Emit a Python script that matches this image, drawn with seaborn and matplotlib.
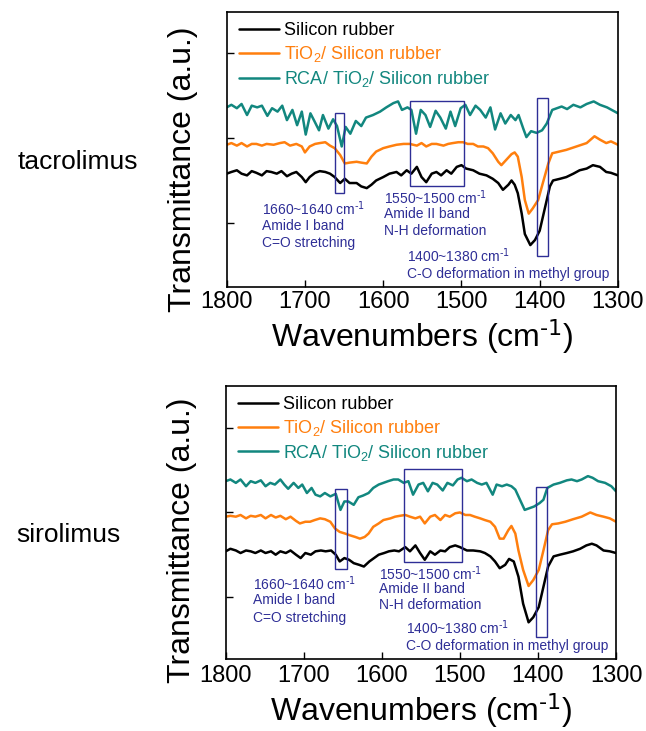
import numpy as np
import pandas as pd
import matplotlib
matplotlib.use("Agg")
import matplotlib.pyplot as plt
import seaborn as sns
from matplotlib.patches import Rectangle

# ---------------- FTIR spectra (wavenumber in cm-1, transmittance in a.u.) ----------------
# tacrolimus-loaded samples
tac_sr_w = [1800, 1794, 1787, 1781, 1774, 1768, 1762, 1755, 1749, 1743, 1736, 1730, 1723, 1717,
            1711, 1704, 1699, 1694, 1687, 1681, 1674, 1668, 1662, 1655, 1649, 1643, 1634, 1628,
            1621, 1615, 1609, 1600, 1592, 1583, 1577, 1570, 1564, 1557, 1551, 1545, 1538, 1532,
            1526, 1519, 1513, 1506, 1500, 1494, 1485, 1477, 1468, 1460, 1453, 1447, 1440, 1436,
            1432, 1428, 1423, 1419, 1412, 1406, 1400, 1394, 1387, 1383, 1374, 1366, 1357, 1349,
            1340, 1332, 1323, 1315, 1309, 1300]
tac_sr_t = [1.58, 1.60, 1.62, 1.58, 1.56, 1.61, 1.59, 1.56, 1.61, 1.60, 1.58, 1.61, 1.55, 1.58,
            1.60, 1.54, 1.48, 1.54, 1.59, 1.61, 1.60, 1.58, 1.54, 1.47, 1.52, 1.47, 1.47, 1.43,
            1.41, 1.45, 1.50, 1.54, 1.58, 1.60, 1.56, 1.62, 1.58, 1.66, 1.54, 1.48, 1.58, 1.60,
            1.56, 1.62, 1.58, 1.66, 1.68, 1.64, 1.62, 1.58, 1.56, 1.52, 1.47, 1.39, 1.45, 1.50,
            1.45, 1.35, 1.11, 0.87, 0.74, 0.80, 0.91, 1.15, 1.43, 1.50, 1.52, 1.54, 1.58, 1.62,
            1.64, 1.68, 1.66, 1.60, 1.59, 1.56]

tac_ti_w = [1800, 1794, 1787, 1781, 1774, 1768, 1762, 1755, 1749, 1740, 1732, 1726, 1719, 1711,
            1704, 1700, 1694, 1687, 1681, 1674, 1668, 1662, 1655, 1649, 1643, 1634, 1628, 1621,
            1615, 1609, 1600, 1592, 1583, 1574, 1566, 1557, 1551, 1545, 1538, 1532, 1523, 1517,
            1511, 1504, 1498, 1492, 1485, 1479, 1472, 1466, 1460, 1453, 1449, 1443, 1436, 1432,
            1428, 1423, 1419, 1414, 1409, 1402, 1396, 1389, 1384, 1375, 1366, 1353, 1340, 1330,
            1323, 1315, 1309, 1300]
tac_ti_t = [1.92, 1.94, 1.91, 1.94, 1.90, 1.93, 1.93, 1.91, 1.93, 1.92, 1.94, 1.95, 1.91, 1.93,
            1.90, 1.83, 1.90, 1.93, 1.94, 1.95, 1.91, 1.88, 1.80, 1.70, 1.71, 1.72, 1.71, 1.70,
            1.78, 1.84, 1.88, 1.90, 1.92, 1.93, 1.93, 1.91, 1.94, 1.90, 1.93, 1.93, 1.91, 1.93,
            1.94, 1.95, 1.95, 1.93, 1.93, 1.90, 1.90, 1.88, 1.82, 1.72, 1.68, 1.74, 1.81, 1.83,
            1.78, 1.54, 1.27, 1.11, 1.17, 1.27, 1.47, 1.70, 1.82, 1.84, 1.86, 1.90, 1.94, 2.02,
            1.98, 1.94, 1.96, 1.92]

tac_rca_w = [1800, 1794, 1787, 1781, 1774, 1768, 1761, 1755, 1748, 1742, 1735, 1729, 1723, 1716,
             1710, 1704, 1699, 1693, 1688, 1682, 1677, 1670, 1664, 1659, 1653, 1648, 1642, 1635,
             1628, 1622, 1613, 1604, 1596, 1587, 1581, 1576, 1569, 1564, 1558, 1552, 1546, 1540,
             1533, 1527, 1520, 1514, 1508, 1501, 1495, 1489, 1482, 1476, 1469, 1463, 1457, 1450,
             1444, 1437, 1431, 1427, 1421, 1417, 1411, 1404, 1397, 1391, 1384, 1378, 1372, 1365,
             1357, 1348, 1340, 1331, 1323, 1314, 1300]
tac_rca_t = [2.36, 2.39, 2.35, 2.40, 2.27, 2.38, 2.36, 2.38, 2.26, 2.35, 2.31, 2.38, 2.21, 2.33,
             2.15, 2.31, 2.04, 2.29, 2.20, 2.09, 2.27, 2.11, 2.22, 2.14, 1.90, 2.13, 2.05, 2.20,
             2.14, 2.24, 2.27, 2.31, 2.36, 2.41, 2.43, 2.33, 2.36, 2.33, 2.05, 2.33, 2.27, 2.13,
             2.32, 2.24, 2.11, 2.31, 2.14, 2.35, 2.39, 2.27, 2.38, 2.33, 2.24, 2.36, 2.10, 2.29,
             2.17, 2.27, 2.21, 2.27, 2.11, 2.01, 2.08, 2.06, 2.09, 2.17, 2.33, 2.35, 2.37, 2.34,
             2.39, 2.36, 2.40, 2.43, 2.39, 2.36, 2.29]

# sirolimus-loaded samples
sir_sr_w = [1800, 1794, 1787, 1781, 1774, 1768, 1762, 1755, 1749, 1742, 1736, 1730, 1723, 1717,
            1710, 1704, 1698, 1691, 1685, 1678, 1672, 1665, 1659, 1654, 1648, 1642, 1636, 1629,
            1623, 1616, 1610, 1604, 1597, 1591, 1584, 1578, 1570, 1564, 1557, 1551, 1545, 1538,
            1532, 1525, 1519, 1513, 1506, 1500, 1491, 1483, 1474, 1468, 1461, 1455, 1449, 1442,
            1437, 1431, 1425, 1419, 1412, 1406, 1399, 1393, 1387, 1380, 1372, 1363, 1355, 1346,
            1338, 1331, 1325, 1316, 1308, 1300]
sir_sr_t = [1.54, 1.57, 1.55, 1.52, 1.55, 1.54, 1.52, 1.55, 1.52, 1.54, 1.50, 1.54, 1.52, 1.55,
            1.50, 1.46, 1.52, 1.50, 1.54, 1.55, 1.54, 1.55, 1.50, 1.42, 1.46, 1.44, 1.40, 1.38,
            1.36, 1.42, 1.46, 1.50, 1.52, 1.54, 1.55, 1.54, 1.59, 1.54, 1.61, 1.52, 1.44, 1.54,
            1.50, 1.55, 1.54, 1.59, 1.61, 1.59, 1.55, 1.55, 1.54, 1.52, 1.48, 1.42, 1.34, 1.38,
            1.45, 1.42, 1.24, 0.92, 0.70, 0.76, 0.88, 1.12, 1.36, 1.48, 1.50, 1.52, 1.54, 1.57,
            1.61, 1.63, 1.61, 1.55, 1.54, 1.52]

sir_ti_w = [1800, 1794, 1787, 1781, 1774, 1768, 1762, 1755, 1749, 1742, 1736, 1730, 1723, 1717,
            1710, 1705, 1698, 1692, 1686, 1679, 1673, 1666, 1660, 1654, 1647, 1641, 1634, 1628,
            1622, 1617, 1611, 1604, 1598, 1589, 1583, 1577, 1570, 1564, 1557, 1551, 1545, 1538,
            1532, 1525, 1519, 1513, 1506, 1500, 1493, 1487, 1481, 1474, 1468, 1461, 1455, 1449,
            1444, 1438, 1434, 1429, 1425, 1419, 1412, 1406, 1399, 1393, 1387, 1382, 1374, 1365,
            1355, 1344, 1333, 1325, 1316, 1308, 1300]
sir_ti_t = [1.95, 1.96, 1.95, 1.97, 1.93, 1.96, 1.95, 1.97, 1.93, 1.97, 1.94, 1.96, 1.92, 1.95,
            1.90, 1.87, 1.89, 1.89, 1.91, 1.93, 1.92, 1.89, 1.81, 1.77, 1.75, 1.73, 1.71, 1.69,
            1.71, 1.75, 1.83, 1.87, 1.91, 1.93, 1.95, 1.96, 1.97, 1.95, 1.93, 1.95, 1.87, 1.95,
            1.97, 1.91, 1.97, 1.95, 1.99, 2.00, 1.97, 1.97, 1.95, 1.93, 1.91, 1.89, 1.83, 1.69,
            1.69, 1.79, 1.84, 1.75, 1.55, 1.32, 1.13, 1.20, 1.32, 1.55, 1.79, 1.86, 1.87, 1.89,
            1.92, 1.95, 2.00, 1.97, 1.95, 1.93, 1.89]

sir_rca_w = [1800, 1794, 1787, 1781, 1774, 1768, 1762, 1755, 1749, 1743, 1737, 1730, 1725, 1720,
             1713, 1707, 1702, 1696, 1690, 1685, 1679, 1673, 1666, 1659, 1653, 1648, 1643, 1636,
             1630, 1624, 1617, 1611, 1604, 1598, 1592, 1585, 1579, 1572, 1566, 1560, 1553, 1547,
             1541, 1535, 1529, 1522, 1516, 1509, 1503, 1498, 1491, 1485, 1478, 1472, 1466, 1458,
             1453, 1446, 1440, 1434, 1429, 1424, 1417, 1411, 1405, 1398, 1393, 1388, 1380, 1372,
             1363, 1357, 1350, 1344, 1336, 1330, 1323, 1314, 1306, 1300]
sir_rca_t = [2.37, 2.39, 2.35, 2.39, 2.31, 2.37, 2.35, 2.38, 2.31, 2.35, 2.33, 2.39, 2.33, 2.28,
             2.35, 2.29, 2.33, 2.23, 2.29, 2.21, 2.19, 2.23, 2.19, 2.22, 2.03, 2.13, 2.13, 2.09,
             2.18, 2.20, 2.23, 2.29, 2.33, 2.35, 2.37, 2.39, 2.39, 2.35, 2.37, 2.21, 2.33, 2.35,
             2.25, 2.35, 2.33, 2.26, 2.35, 2.32, 2.39, 2.41, 2.37, 2.39, 2.35, 2.33, 2.35, 2.21,
             2.33, 2.31, 2.33, 2.31, 2.27, 2.17, 2.03, 2.05, 2.07, 2.11, 2.15, 2.29, 2.33, 2.35,
             2.38, 2.39, 2.37, 2.39, 2.43, 2.41, 2.37, 2.35, 2.31, 2.25]

series_names = ["Silicon rubber", "TiO$_2$/ Silicon rubber", "RCA/ TiO$_2$/ Silicon rubber"]
series_colors = ["#000000", "#FF7F0E", "#12877F"]
drug_names = ["tacrolimus", "sirolimus"]

# highlighted bands: (high, low) wavenumber and (top, bottom) transmittance of each box
tac_boxes = [((1661, 1650), (2.29, 1.35)), ((1566, 1497), (2.44, 1.44)), ((1403, 1389), (2.47, 0.61))]
sir_boxes = [((1660, 1644), (2.28, 1.33)), ((1571, 1497), (2.51, 1.41)), ((1402, 1388), (2.30, 0.53))]

INV_CM = r"cm$^{\text{-1}}$"
band_text = [["1660~1640 " + INV_CM, "Amide I band", "C=O stretching"],
             ["1550~1500 " + INV_CM, "Amide II band", "N-H deformation"],
             ["1400~1380 " + INV_CM, "C-O deformation in methyl group"]]
# left edge (cm-1) and line heights (a.u.) of each annotation block
tac_text_pos = [(1755, [1.17, 0.97, 0.77]), (1599, [1.30, 1.10, 0.90]), (1570, [0.61, 0.40])]
sir_text_pos = [(1765, [1.16, 0.96, 0.75]), (1604, [1.28, 1.09, 0.90]), (1569, [0.64, 0.42])]

# ---------------- style ----------------
sns.set_style("ticks")
plt.rcParams["font.family"] = ["Liberation Sans", "DejaVu Sans"]
plt.rcParams["mathtext.default"] = "regular"
plt.rcParams["text.color"] = "black"
plt.rcParams["axes.labelcolor"] = "black"
plt.rcParams["xtick.color"] = "black"
plt.rcParams["ytick.color"] = "black"

ANNOT = "#2E2E96"

fig = plt.figure(figsize=(6.46, 7.31), dpi=100)
ax_top = fig.add_axes([0.3509, 0.6074, 0.6057, 0.3762])
ax_bot = fig.add_axes([0.3494, 0.0985, 0.6042, 0.3739])

panels = [
    (ax_top, [(tac_sr_w, tac_sr_t), (tac_ti_w, tac_ti_t), (tac_rca_w, tac_rca_t)],
     tac_boxes, tac_text_pos, (0.247, 3.482), 0.429, 3),
    (ax_bot, [(sir_sr_w, sir_sr_t), (sir_ti_w, sir_ti_t), (sir_rca_w, sir_rca_t)],
     sir_boxes, sir_text_pos, (0.266, 3.50), 0.435, 4),
]

for ax, curves, boxes, text_pos, ylim, ylab_y, xpad in panels:
    frames = []
    for name, (w, t) in zip(series_names, curves):
        frames.append(pd.DataFrame({"Wavenumber": w, "Transmittance": t, "Sample": name}))
    df = pd.concat(frames, ignore_index=True)
    sns.lineplot(data=df, x="Wavenumber", y="Transmittance", hue="Sample",
                 hue_order=series_names, palette=series_colors, sort=False,
                 estimator=None, linewidth=1.8, ax=ax)

    for (w_hi, w_lo), (t_hi, t_lo) in boxes:
        ax.add_patch(Rectangle((w_lo, t_lo), w_hi - w_lo, t_hi - t_lo, fill=False,
                               edgecolor=ANNOT, linewidth=1.0, zorder=5))
    for lines, (x0, ys) in zip(band_text, text_pos):
        for s, y in zip(lines, ys):
            ax.text(x0, y, s, color=ANNOT, fontsize=10, ha="left", va="center")

    ax.set_xlim(1800, 1300)
    ax.set_ylim(*ylim)
    ax.set_xticks([1800, 1700, 1600, 1500, 1400, 1300])
    ax.set_yticks([1, 2, 3])
    ax.set_yticklabels([])
    ax.tick_params(axis="both", direction="in", length=5, width=1.0, color="black")
    ax.tick_params(axis="x", labelsize=17, pad=xpad, labelcolor="black")
    for sp in ax.spines.values():
        sp.set_visible(True)
        sp.set_linewidth(1.2)
        sp.set_color("black")
    ax.set_xlabel("Wavenumbers (" + INV_CM + ")", fontsize=23, labelpad=3)
    ax.set_ylabel("Transmittance (a.u.)", fontsize=23)
    ax.yaxis.set_label_coords(-0.074, ylab_y)

    leg = ax.legend(loc="upper left", bbox_to_anchor=(0.031, 0.962), frameon=False,
                    fontsize=13, handlelength=2.2, handletextpad=0.3, labelspacing=0.27,
                    borderpad=0, borderaxespad=0, labelcolor="linecolor")
    for h in leg.get_lines():
        h.set_linewidth(1.8)

fig.text(77.5 / 646, 1 - 162 / 731, drug_names[0], fontsize=19, ha="center", va="center")
fig.text(68 / 646, 1 - 535 / 731, drug_names[1], fontsize=19, ha="center", va="center")

fig.savefig("out.png", dpi=100)
